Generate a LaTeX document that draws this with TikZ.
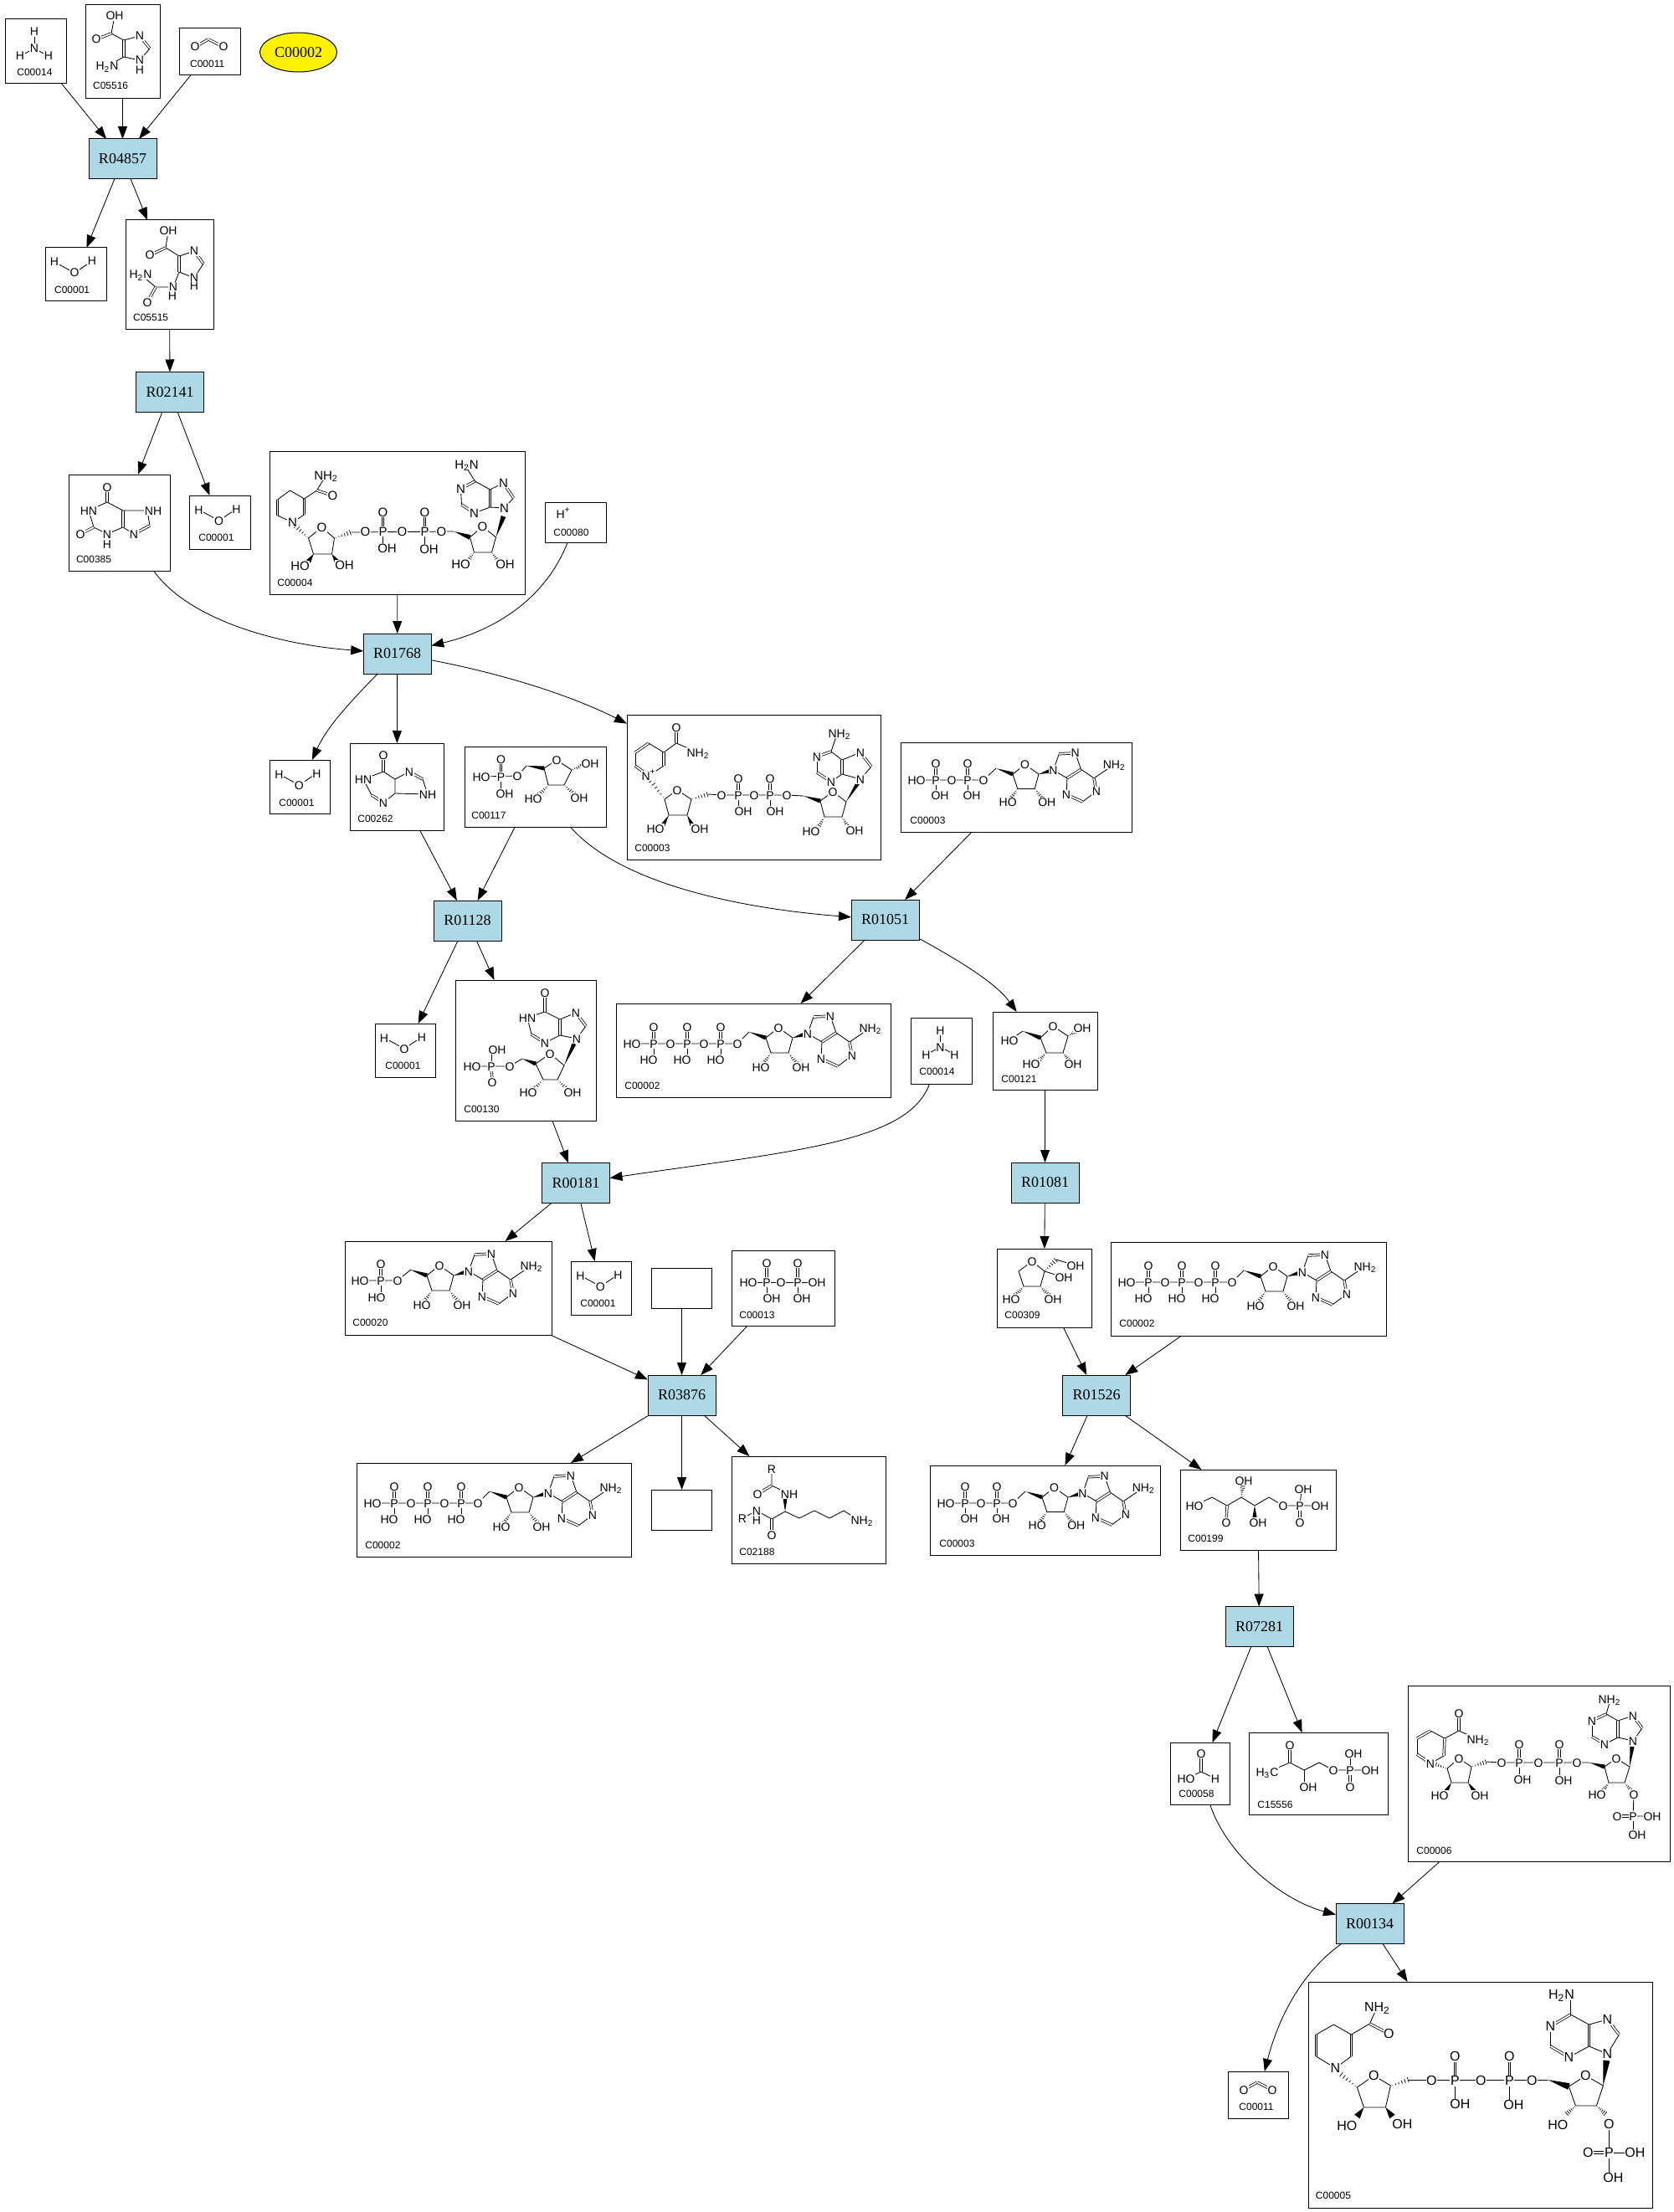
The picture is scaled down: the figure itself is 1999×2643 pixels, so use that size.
\documentclass[tikz,border=0pt]{standalone}
\usepackage{fontspec}
\setmainfont{Liberation Sans}
\newfontfamily\rxnfont{Liberation Serif}
\usetikzlibrary{arrows.meta,calc,fit,shapes.geometric}
\definecolor{rxnblue}{RGB}{173,216,230}
\newcounter{atomno}
\def\AS{7}\def\AH{5pt}\def\WW{1.3pt}
\newcommand\setAF[3]{\def\AS{#1}\def\AH{#2}\def\WW{#3}}
\tikzset{
  cbox/.style={draw,rectangle,inner sep=0pt,outer sep=0pt,line width=.5pt},
  clabel/.style={anchor=west,inner sep=0pt,font=\fontsize{6}{6}\selectfont},
  rxn/.style={draw,rectangle,fill=rxnblue,inner sep=0pt,outer sep=0pt,line width=.5pt,minimum width=40.5pt,minimum height=24pt,font=\rxnfont\fontsize{9}{9}\selectfont},
  cpd/.style={draw,ellipse,fill=yellow,inner sep=0pt,outer sep=0pt,line width=.5pt,minimum width=46pt,minimum height=23.5pt,font=\rxnfont\fontsize{9}{9}\selectfont},
  edge/.style={draw,line width=.42pt,-{Triangle[length=7.5pt,width=5.5pt]}},
  bond/.style={line width=.42pt,line join=round},
  dbond/.style={line width=.38pt,double=white,draw=black,double distance=.9pt},
  atom/.style={inner sep=.35pt,fill=white,text height=\AH,text depth=0pt,font=\fontsize{\AS}{\AS}\selectfont}
}
\def\At(#1,#2)#3{\stepcounter{atomno}\node[atom] (atom\number\value{atomno}) at (#1,#2) {#3};}
\newcommand\Bd[1]{\draw[bond] #1;}
\newcommand\Db[2]{\draw[dbond] #1 -- #2;}
\newcommand\Wdg[2]{\fill #1 -- ($#2!\WW!90:#1$) -- ($#2!\WW!-90:#1$) -- cycle;}
\newcommand\Hsh[2]{\foreach \hs in {0.1,0.27,0.44,0.61,0.78,0.95}{\draw[line width=.35pt] ($($#1!\hs!#2$)!{\hs*1.6pt}!90:#2$) -- ($($#1!\hs!#2$)!{\hs*1.6pt}!-90:#2$);}}
\newcommand\SB[1]{\textsubscript{#1}}
% small molecules, coordinates local to the box corner
\newcommand\Wat[2]{\begin{scope}[shift={(#1,#2)}]\Bd{(11,17)--(35,30)--(56,16)}\At(11,17){H}\At(35,30){O}\At(56,16){H}\end{scope}}
\newcommand\Amm[2]{\begin{scope}[shift={(#1,#2)}]\Bd{(35,15)--(35,35)}\Bd{(18,44)--(35,35)--(52,44)}\At(35,15){H}\At(35,35){N}\At(18,44){H}\At(52,44){H}\end{scope}}
\newcommand\Cdx[2]{\begin{scope}[shift={(#1,#2)}]\Db{(19,22)}{(35,13)}\Db{(35,13)}{(53,22)}\At(19,22){O}\At(53,22){O}\end{scope}}
% adenosine fragment, local origin at C4'
\newcommand\Ado{%
  \Wdg{(-20,-7)}{(0,0)}
  \Bd{(0,0)--(15,-12)--(32,0)--(27,18)--(6,18)--cycle}
  \Wdg{(32,0)}{(46,-4)}\Hsh{(6,18)}{(-3,31)}\Hsh{(27,18)}{(37,31)}
  \Bd{(46,-4)--(50,-5)--(57,-25)}\Db{(57,-25)}{(77,-26)}\Bd{(77,-26)--(84,-6)}
  \Db{(84,-6)}{(67,5)}\Bd{(67,5)--(50,-5)}\Bd{(84,-6)--(100,5)--(125,-12)}
  \Db{(100,5)}{(103,21)}\Bd{(103,21)--(86,34)}\Db{(86,34)}{(66,25)}\Bd{(66,25)--(67,5)}
  \At(15,-12){O}\At(-6,35){HO}\At(42,35){OH}\At(50,-5){N}\At(77,-26){N}\At(125,-12){NH\SB{2}}\At(103,21){N}\At(66,25){N}
}
\newcommand\ATP[2]{\begin{scope}[shift={(#1,#2)}]
  \Bd{(19,48)--(145,48)--(159,34)}
  \foreach \px in {45,85,125}{\Db{(\px,28)}{(\px,48)}\Bd{(\px,48)--(\px,67)}}
  \begin{scope}[shift={(179,41)}]\Ado\end{scope}
  \At(19,48){HO}
  \foreach \px in {45,85,125}{\At(\px,48){P}\At(\px,28){O}\At(\px-6,67){HO}}
  \At(65,48){O}\At(105,48){O}\At(145,48){O}
\end{scope}}
\newcommand\ADP[2]{\begin{scope}[shift={(#1,#2)}]
  \Bd{(19,45)--(99,45)--(114,31)}
  \foreach \px in {42,80}{\Db{(\px,25)}{(\px,45)}\Bd{(\px,45)--(\px,63)}}
  \begin{scope}[shift={(134,38)},scale=.97]\Ado\end{scope}
  \At(19,45){HO}
  \foreach \px in {42,80}{\At(\px,45){P}\At(\px,25){O}\At(\px+5,63){OH}}
  \At(61,45){O}\At(99,45){O}
\end{scope}}
\begin{document}
\begin{tikzpicture}[x=0.5pt,y=-0.5pt]
\useasboundingbox[fill=white] (0,0) rectangle (1999,2643);
% ---------- compound boxes
\newcommand\Cmp[6]{\node[cbox,fit={#2#3}] (#1) {};\node[clabel] (#1lab) at (#4,#5) {#6};}
\Cmp{C14a}{(6,23)}{(79,100)}{20}{86}{C00014}
\Cmp{C5516}{(102,6)}{(191,118)}{110.7}{102}{C05516}
\Cmp{C11a}{(214,34)}{(287,90)}{226.7}{76}{C00011}
\Cmp{W1}{(54,296)}{(127,360)}{64.7}{346}{C00001}
\Cmp{C5515}{(150,263)}{(255,394)}{158.7}{379}{C05515}
\Cmp{C385}{(82,567)}{(203,682)}{90.6}{668}{C00385}
\Cmp{W2}{(226.5,592)}{(299,656)}{237}{642}{C00001}
\Cmp{C4}{(322.5,539)}{(627,710)}{331}{696}{C00004}
\Cmp{C80}{(651,600)}{(724,648)}{661}{636}{C00080}
\Cmp{W3}{(322.4,908)}{(394.5,972)}{333}{959}{C00001}
\Cmp{C262}{(418.4,888)}{(530,992)}{427}{978}{C00262}
\Cmp{C117}{(555,892)}{(724,988)}{563}{974}{C00117}
\Cmp{C3a}{(749,854)}{(1052.7,1027)}{758}{1013}{C00003}
\Cmp{C3b}{(1076,887)}{(1352,994)}{1087}{980}{C00003}
\Cmp{W4}{(448,1223)}{(520.6,1287)}{460}{1273}{C00001}
\Cmp{C130}{(544,1171)}{(712.6,1339)}{554}{1325}{C00130}
\Cmp{C2a}{(736,1199)}{(1064,1311)}{746}{1297}{C00002}
\Cmp{C14b}{(1088.5,1216)}{(1161.5,1295)}{1098}{1280}{C00014}
\Cmp{C121}{(1186,1209)}{(1311,1302)}{1196}{1289}{C00121}
\Cmp{C20}{(412,1483)}{(659,1595)}{421}{1580}{C00020}
\Cmp{W5}{(682.4,1507)}{(754.4,1571)}{693}{1557}{C00001}
\node[cbox,fit={(778.5,1515)(850.4,1563)}] (blankA) {};
\Cmp{C13}{(874.5,1494)}{(997,1584)}{883}{1571}{C00013}
\Cmp{C309}{(1191,1492)}{(1304,1586)}{1200}{1571}{C00309}
\Cmp{C2b}{(1327,1484)}{(1656,1596)}{1337}{1581}{C00002}
\Cmp{C2c}{(426,1748)}{(754.6,1860)}{436}{1846}{C00002}
\node[cbox,fit={(778.6,1780)(850.6,1828)}] (blankB) {};
\Cmp{C2188}{(874.6,1740)}{(1058,1868)}{883}{1854}{C02188}
\Cmp{C3c}{(1111,1751)}{(1386,1858)}{1122}{1844}{C00003}
\Cmp{C199}{(1410,1756)}{(1596,1852)}{1419}{1838}{C00199}
\Cmp{C58}{(1398,2082)}{(1469,2156)}{1408}{2143}{C00058}
\Cmp{C15556}{(1492,2070)}{(1658.6,2168)}{1502}{2156}{C15556}
\Cmp{C6}{(1682,2014)}{(1995,2224)}{1692}{2211}{C00006}
\Cmp{C11b}{(1467.5,2475)}{(1539.6,2531)}{1480}{2517}{C00011}
\Cmp{C5}{(1563.4,2368)}{(1974.5,2638)}{1571.5}{2623}{C00005}
% ---------- reactions
\node[cpd] (C2top) at (356.5,62.5) {C00002};
\node[rxn] (R04857) at (146.5,190) {R04857};
\node[rxn] (R02141) at (203,468.5) {R02141};
\node[rxn] (R01768) at (474.7,781) {R01768};
\node[rxn] (R01128) at (558.5,1100) {R01128};
\node[rxn] (R01051) at (1057.5,1099) {R01051};
\node[rxn] (R00181) at (688,1413.5) {R00181};
\node[rxn] (R01081) at (1248.5,1413) {R01081};
\node[rxn] (R03876) at (814.5,1667) {R03876};
\node[rxn] (R01526) at (1310,1667) {R01526};
\node[rxn] (R07281) at (1504.5,1943.5) {R07281};
\node[rxn] (R00134) at (1636.5,2298.5) {R00134};
% ---------- connectors
\draw[edge] (C14a) -- (R04857);
\draw[edge] (C5516) -- (R04857);
\draw[edge] (C11a) -- (R04857);
\draw[edge] (R04857) -- (W1);
\draw[edge] (R04857) -- (C5515);
\draw[edge] (C5515) -- (R02141);
\draw[edge] (R02141) -- (C385);
\draw[edge] (R02141) -- (W2);
\draw[edge] (C385) .. controls (225,740) and (330,770) .. (R01768);
\draw[edge] (C4) -- (R01768);
\draw[edge] (C80) .. controls (650,720) and (585,755) .. (R01768);
\draw[edge] (R01768) .. controls (415,842) and (390,870) .. (W3);
\draw[edge] (R01768) -- (C262);
\draw[edge] (R01768) .. controls (600,805) and (680,830) .. (C3a);
\draw[edge] (C262) -- (R01128);
\draw[edge] (C117) -- (R01128);
\draw[edge] (C117) .. controls (740,1055) and (880,1085) .. (R01051);
\draw[edge] (C3b) -- (R01051);
\draw[edge] (R01128) -- (W4);
\draw[edge] (R01128) -- (C130);
\draw[edge] (R01051) -- (C2a);
\draw[edge] (R01051) .. controls (1150,1150) and (1190,1175) .. (C121);
\draw[edge] (C14b) .. controls (1085,1365) and (950,1375) .. (R00181);
\draw[edge] (C130) -- (R00181);
\draw[edge] (C121) -- (R01081);
\draw[edge] (R00181) -- (C20);
\draw[edge] (R00181) -- (W5);
\draw[edge] (blankA) -- (R03876);
\draw[edge] (C13) -- (R03876);
\draw[edge] (C20) -- (R03876);
\draw[edge] (R03876) -- (C2c);
\draw[edge] (R03876) -- (blankB);
\draw[edge] (R03876) -- (C2188);
\draw[edge] (R01081) -- (C309);
\draw[edge] (C309) -- (R01526);
\draw[edge] (C2b) -- (R01526);
\draw[edge] (R01526) -- (C3c);
\draw[edge] (R01526) -- (C199);
\draw[edge] (C199) -- (R07281);
\draw[edge] (R07281) -- (C58);
\draw[edge] (R07281) -- (C15556);
\draw[edge] (C58) .. controls (1465,2215) and (1530,2270) .. (R00134);
\draw[edge] (C6) -- (R00134);
\draw[edge] (R00134) .. controls (1550,2360) and (1525,2420) .. (C11b);
\draw[edge] (R00134) -- (C5);
% ---------- small structures
\Wat{54}{296}\Wat{226.5}{592}\Wat{322.4}{908}\Wat{448}{1223}\Wat{682.4}{1507}
\Amm{6}{23}\Amm{1088.5}{1216}
\Cdx{214}{34}\Cdx{1467}{2475}
% C05516
\Bd{(137,19)--(133,40)--(148,48)}\Db{(133,40)}{(115,47)}\Db{(148,48)}{(148,68)}
\Bd{(148,48)--(167,43)}\Db{(167,43)}{(179,58)}\Bd{(179,58)--(167,72)--(148,68)--(128,79)}
\At(137,19){OH}\At(115,47){O}\At(167,43){N}\At(167,72){N}\At(167,84){H}\At(128,79){H\SB{2}N}
% C05515
\Bd{(201,276)--(198,296)--(214,306)}\Db{(198,296)}{(179,305)}\Db{(214,306)}{(214,325)}
\Bd{(214,306)--(232,300)}\Db{(232,300)}{(243,315)}\Bd{(243,315)--(232,332)--(214,325)--(207,343)--(186,343)--(168,328)}\Db{(186,343)}{(176,361)}
\At(201,276){OH}\At(179,305){O}\At(232,300){N}\At(232,332){N}\At(232,342){H}\At(207,343){N}\At(206,353){H}\At(168,328){H\SB{2}N}\At(176,361){O}
% C00385
\Db{(128,582)}{(128,600)}\Bd{(128,600)--(106,610)--(112,630)--(128,638)--(147,630)}\Db{(112,630)}{(96,638)}
\Db{(147,630)}{(147,610)}\Bd{(147,610)--(128,600)}\Bd{(147,610)--(176,610)--(179,628)}\Db{(179,628)}{(160,638)}\Bd{(160,638)--(147,630)}
\At(128,582){O}\At(106,610){HN}\At(96,638){O}\At(128,638){N}\At(128,650){H}\At(183,610){NH}\At(160,638){N}
% C00080
\At(673,614){H\textsuperscript{+}}
% C00262
\Db{(458,902)}{(458,922)}\Bd{(458,922)--(434,931)--(444,950)}\Db{(444,950)}{(458,959)}\Bd{(458,959)--(472,948)--(472,931)--(458,922)}
\Bd{(472,931)--(489,922)}\Db{(489,922)}{(505,931)}\Bd{(505,931)--(511,949)--(472,948)}
\At(458,902){O}\At(434,931){HN}\At(458,959){N}\At(489,922){N}\At(511,949){NH}
% C00117
\Bd{(575,928)--(618,927)--(629,915)}\Db{(598.5,907)}{(598.5,928)}\Bd{(598.5,928)--(598.5,948)}
\Wdg{(629,915)}{(650,918)}\Bd{(650,918)--(665,908)--(683,920)--(674,938)--(655,938)--cycle}
\Hsh{(683,920)}{(697,914)}\Hsh{(655,938)}{(644,950)}\Hsh{(674,938)}{(686,949)}
\At(575,928){HO}\At(598.5,928){P}\At(598.5,907){O}\At(603,948){OH}\At(618,927){O}\At(665,908){O}\At(705,912){OH}\At(637,954){HO}\At(692,953){OH}
% C00130
\begin{scope}[shift={(544,1171)}]
\Bd{(20,103)--(65,103)--(80,94)}\Bd{(43,103)--(43,83)}\Db{(43,103)}{(44,122)}
\Wdg{(80,94)}{(96,100)}\Bd{(96,100)--(113,88)--(130,102)--(122,119)--(105,119)--cycle}
\Hsh{(105,119)}{(93,131)}\Hsh{(122,119)}{(134,131)}\Wdg{(130,102)}{(142,76)}
\Bd{(145,70)--(156,55)}\Db{(156,55)}{(144,39)}\Bd{(144,39)--(125,47)}\Db{(125,47)}{(125,66)}\Bd{(125,66)--(145,70)}
\Bd{(125,66)--(107,75)}\Db{(107,75)}{(91,65)}\Bd{(91,65)--(86,45)--(107,38)--(125,47)}\Db{(107,38)}{(107,15)}
\At(20,103){HO}\At(43,103){P}\At(50,83){OH}\At(44,122){O}\At(65,103){O}\At(113,88){O}\At(87,134){HO}\At(140,134){OH}
\At(145,70){N}\At(144,39){N}\At(107,75){N}\At(86,45){HN}\At(107,15){O}
\end{scope}
% C00004 (NADH)
\begin{scope}[shift={(322.5,539)}]\setAF{7.5}{5.4pt}{1.5pt}
\Bd{(27,85)--(41,76)}\Db{(41,76)}{(41,57)}\Bd{(41,57)--(24,47)--(9,58)}\Db{(9,58)}{(9,77)}\Bd{(9,77)--(27,85)}
\Bd{(41,57)--(56,47)--(67,29)}\Db{(56,47)}{(75,53)}\Hsh{(46,104)}{(30,89)}
\Bd{(46,104)--(62,91)--(77,104)--(74,123)--(52,123)--cycle}\Wdg{(52,123)}{(46,132)}\Wdg{(74,123)}{(80,132)}
\Hsh{(77,104)}{(97,97)}\Bd{(97,97)--(220,96)}
\Db{(135,73)}{(135,96)}\Bd{(135,96)--(135,116)}\Db{(185,73)}{(185,96)}\Bd{(185,96)--(185,117)}
\Wdg{(220,96)}{(239,103)}\Bd{(239,103)--(254,90)--(270,103)--(265,121)--(244,121)--cycle}
\Hsh{(244,121)}{(235,133)}\Hsh{(265,121)}{(274,133)}\Wdg{(270,103)}{(279,78)}
\Bd{(280,68)--(291,56)}\Db{(291,56)}{(279,38)}\Bd{(279,38)--(263,46)}\Db{(263,46)}{(263,67)}\Bd{(263,67)--(280,68)}
\Bd{(263,67)--(244,74)}\Db{(244,74)}{(229,64)}\Bd{(229,64)--(228,45)}\Db{(228,45)}{(245,36)}\Bd{(245,36)--(263,46)}\Bd{(245,36)--(235,20)}
\At(67,29){NH\SB{2}}\At(75,53){O}\At(27,85){N}\At(62,91){O}\At(36,137){HO}\At(89,136){OH}\At(114,96){O}\At(135,96){P}\At(135,73){O}\At(140,116){OH}\At(158,96){O}\At(185,96){P}\At(185,73){O}\At(190,117){OH}\At(205,96){O}
\At(254,90){O}\At(228,135){HO}\At(281,135){OH}\At(280,68){N}\At(279,38){N}\At(244,74){N}\At(228,45){N}\At(235,16){H\SB{2}N}
\end{scope}
% C00003 (NAD+)
\begin{scope}[shift={(749,854)}]
\Db{(59,15)}{(59,34)}\Bd{(59,34)--(85,45)}\Bd{(59,34)--(44,45)}\Db{(44,45)}{(44,61)}\Bd{(44,61)--(26,73)}\Db{(26,73)}{(10,61)}\Bd{(10,61)--(10,45)}\Db{(10,45)}{(26,34)}\Bd{(26,34)--(44,45)}
\Hsh{(45,101)}{(28,78)}\Bd{(45,101)--(60,90)--(77,101)--(72,120)--(50,120)--cycle}\Wdg{(50,120)}{(43,132)}\Wdg{(72,120)}{(78,132)}
\Hsh{(77,101)}{(97,95)}\Bd{(97,95)--(113,96)--(191,96)--(211,97)}
\Db{(133,76)}{(133,96)}\Bd{(133,96)--(133,115)}\Db{(171,76)}{(171,96)}\Bd{(171,96)--(171,115)}
\Wdg{(211,97)}{(231,103)}\Bd{(231,103)--(246,92)--(262,104)--(257,122)--(236,122)--cycle}
\Hsh{(236,122)}{(228,135)}\Hsh{(257,122)}{(265,135)}\Wdg{(262,104)}{(277,80)}
\Bd{(279,77)--(292,62)}\Db{(292,62)}{(279,45)}\Bd{(279,45)--(257,54)}\Db{(257,54)}{(257,71)}\Bd{(257,71)--(279,77)}
\Bd{(257,71)--(244,80)}\Db{(244,80)}{(227,69)}\Bd{(227,69)--(227,50)}\Db{(227,50)}{(244,44)}\Bd{(244,44)--(257,54)}\Bd{(244,44)--(250,26)}
\At(59,15){O}\At(85,45){NH\SB{2}}\At(26,73){N\textsuperscript{+}}\At(60,90){O}\At(34,136){HO}\At(87,136){OH}\At(113,96){O}\At(133,96){P}\At(133,76){O}\At(139,115){OH}\At(152,96){O}\At(171,96){P}\At(171,76){O}\At(177,115){OH}\At(191,96){O}
\At(246,92){O}\At(220,139){HO}\At(272,138){OH}\At(279,77){N}\At(279,45){N}\At(244,80){N}\At(227,50){N}\At(254,22){NH\SB{2}}
\end{scope}
% ADP, ATP, AMP
\ADP{1076}{887}\ADP{1111}{1751}
\ATP{736}{1199}\ATP{1327}{1484}\ATP{426}{1748}
\begin{scope}[shift={(412,1483)}]
\Bd{(18,47)--(63,47)--(79,34)}\Db{(43,27)}{(43,47)}\Bd{(43,47)--(43,67)}
\begin{scope}[shift={(98,41)}]\Ado\end{scope}
\At(18,47){HO}\At(43,47){P}\At(43,27){O}\At(38,67){HO}\At(63,47){O}
\end{scope}
% C00121
\Bd{(1206,1243)--(1222,1232)}\Wdg{(1222,1232)}{(1243,1240)}\Bd{(1243,1240)--(1258,1226)--(1276,1238)--(1270,1258)--(1250,1258)--cycle}
\Hsh{(1276,1238)}{(1287,1231)}\Hsh{(1250,1258)}{(1240,1268)}\Hsh{(1270,1258)}{(1278,1268)}
\At(1206,1243){HO}\At(1258,1226){O}\At(1293,1228){OH}\At(1232,1271){HO}\At(1282,1271){OH}
% C00309
\Bd{(1233,1507)--(1217,1519)--(1223,1537)--(1243,1537)--(1248,1519)--cycle}
\Hsh{(1248,1519)}{(1262,1505)}\Bd{(1262,1505)--(1285,1512)}\Bd{(1248,1519)--(1271,1526)}
\Hsh{(1223,1537)}{(1213,1548)}\Hsh{(1243,1537)}{(1253,1548)}
\At(1233,1507){O}\At(1285,1512){OH}\At(1271,1526){OH}\At(1208,1552){HO}\At(1258,1552){OH}
% C00013
\Bd{(894,1532)--(976,1532)}\Db{(916,1509)}{(916,1532)}\Bd{(916,1532)--(916,1551)}\Db{(953,1509)}{(953,1532)}\Bd{(953,1532)--(953,1551)}
\At(894,1532){HO}\At(916,1532){P}\At(916,1509){O}\At(922,1551){OH}\At(933,1532){O}\At(953,1532){P}\At(953,1509){O}\At(958,1551){OH}\At(976,1532){OH}
% C02188
\Bd{(922,1755)--(922,1775)--(943,1785)}\Db{(922,1775)}{(905,1785)}\Wdg{(938,1806)}{(938,1790)}
\Bd{(938,1806)--(922,1815)--(904,1805)}\Db{(922,1815)}{(922,1834)}\Bd{(904,1805)--(887,1814)}
\Bd{(938,1806)--(955,1814)--(973,1805)--(991,1814)--(1008,1805)--(1022,1814)}
\At(922,1755){R}\At(905,1785){O}\At(943,1785){NH}\At(922,1834){O}\At(904,1805){N}\At(904,1816){H}\At(887,1814){R}\At(1030,1816){NH\SB{2}}
% C00199
\Bd{(1427,1799)--(1448,1789)--(1466,1799)--(1483,1789)--(1499,1799)--(1516,1789)--(1533,1799)--(1577,1799)}
\Db{(1466,1799)}{(1465,1819)}\Hsh{(1483,1789)}{(1485,1775)}\Wdg{(1499,1799)}{(1499,1813)}
\Bd{(1553,1799)--(1555,1780)}\Db{(1553,1799)}{(1553,1819)}
\At(1427,1799){HO}\At(1465,1819){O}\At(1486,1769){OH}\At(1503,1819){OH}\At(1533,1799){O}\At(1553,1799){P}\At(1557,1779){OH}\At(1577,1799){OH}\At(1553,1819){O}
% C00058
\Db{(1435,2095)}{(1435,2117)}\Bd{(1417,2125)--(1435,2117)--(1452,2125)}
\At(1435,2095){O}\At(1417,2125){HO}\At(1452,2125){H}
% C15556
\Bd{(1520,2115)--(1541,2106)--(1558,2115)--(1576,2106)--(1593,2115)--(1637,2115)}\Db{(1541,2085)}{(1541,2106)}\Bd{(1558,2115)--(1558,2135)}
\Bd{(1613,2115)--(1613,2095)}\Db{(1613,2115)}{(1613,2135)}
\At(1514,2117){H\SB{3}C}\At(1541,2085){O}\At(1563,2135){OH}\At(1593,2115){O}\At(1613,2115){P}\At(1617,2095){OH}\At(1637,2115){OH}\At(1613,2135){O}
% C00006 (NADP+)
\begin{scope}[shift={(1682,2014)}]
\Db{(61,33)}{(61,54)}\Bd{(61,54)--(84,64)}\Bd{(61,54)--(44,63)}\Db{(44,63)}{(43,84)}\Bd{(43,84)--(27,93)}\Db{(27,93)}{(11,82)}\Bd{(11,82)--(11,63)}\Db{(11,63)}{(27,54)}\Bd{(27,54)--(44,63)}
\Hsh{(47,99)}{(30,93)}\Bd{(47,99)--(61,87)--(76,97)--(72,116)--(52,116)--cycle}\Wdg{(52,116)}{(46,126)}\Wdg{(72,116)}{(79,126)}
\Hsh{(76,97)}{(94,91)}\Bd{(94,91)--(112,92)--(217,92)}
\Db{(133,70)}{(133,92)}\Bd{(133,92)--(133,112)}\Db{(181,70)}{(181,92)}\Bd{(181,92)--(181,113)}
\Wdg{(217,92)}{(235,97)}\Bd{(235,97)--(249,87)--(265,97)--(259,116)--(240,116)--cycle}
\Hsh{(240,116)}{(232,127)}\Hsh{(259,116)}{(268,127)}\Wdg{(265,97)}{(268,73)}
\Bd{(269,66)--(280,51)}\Db{(280,51)}{(269,36)}\Bd{(269,36)--(251,42)}\Db{(251,42)}{(251,62)}\Bd{(251,62)--(269,66)}
\Bd{(251,62)--(235,70)}\Db{(235,70)}{(220,61)}\Bd{(220,61)--(220,42)}\Db{(220,42)}{(237,34)}\Bd{(237,34)--(251,42)}\Bd{(237,34)--(241,20)}
\Bd{(270,130)--(269,156)--(292,156)}\Bd{(269,156)--(269,178)}\Db{(250,156)}{(269,156)}
\At(61,33){O}\At(84,64){NH\SB{2}}\At(27,93){N}\At(61,87){O}\At(38,131){HO}\At(86,131){OH}\At(112,92){O}\At(133,92){P}\At(133,70){O}\At(137,112){OH}\At(156,92){O}\At(181,92){P}\At(181,70){O}\At(186,113){OH}\At(202,92){O}
\At(249,87){O}\At(226,130){HO}\At(270,130){O}\At(269,66){N}\At(269,36){N}\At(235,70){N}\At(220,42){N}\At(241,16){NH\SB{2}}
\At(269,156){P}\At(250,156){O}\At(292,156){OH}\At(274,178){OH}
\end{scope}
% C00005 (NADPH)
\begin{scope}[shift={(1563.4,2368)}]\setAF{8}{5.8pt}{2pt}
\Bd{(32,103)--(51,89)}\Db{(51,89)}{(51,63)}\Bd{(51,63)--(30,51)--(9,63)}\Db{(9,63)}{(9,89)}\Bd{(9,89)--(32,103)}
\Bd{(51,63)--(73,50)--(82,30)}\Db{(73,50)}{(96,62)}\Hsh{(58,126)}{(38,110)}
\Bd{(58,126)--(78,112)--(98,124)--(92,150)--(66,150)--cycle}\Wdg{(66,150)}{(58,161)}\Wdg{(92,150)}{(100,161)}
\Hsh{(98,124)}{(120,117)}\Bd{(120,117)--(286,117)}
\Db{(175,89)}{(175,118)}\Bd{(175,118)--(175,146)}\Db{(240,89)}{(240,118)}\Bd{(240,118)--(240,147)}
\Wdg{(286,117)}{(311,125)}\Bd{(311,125)--(331,112)--(352,124)--(344,148)--(319,148)--cycle}
\Hsh{(319,148)}{(308,158)}\Hsh{(344,148)}{(355,158)}\Wdg{(352,124)}{(356,94)}
\Bd{(357,86)--(371,63)}\Db{(371,63)}{(357,45)}\Bd{(357,45)--(335,51)}\Db{(335,51)}{(335,77)}\Bd{(335,77)--(357,86)}
\Bd{(335,77)--(311,90)}\Db{(311,90)}{(289,77)}\Bd{(289,77)--(289,53)}\Db{(289,53)}{(313,39)}\Bd{(313,39)--(335,51)}\Bd{(313,39)--(313,20)}
\Bd{(359,170)--(359,234)}\Db{(334,204)}{(359,204)}\Bd{(359,204)--(390,204)}
\At(82,30){NH\SB{2}}\At(96,62){O}\At(32,103){N}\At(78,112){O}\At(46,172){HO}\At(112,170){OH}\At(147,118){O}\At(175,118){P}\At(175,89){O}\At(181,146){OH}\At(206,118){O}\At(240,118){P}\At(240,89){O}\At(245,147){OH}\At(267,118){O}
\At(331,112){O}\At(298,171){HO}\At(359,170){O}\At(357,86){N}\At(357,45){N}\At(311,90){N}\At(289,53){N}\At(302,15){H\SB{2}N}
\At(359,204){P}\At(334,204){O}\At(390,204){OH}\At(364,234){OH}
\end{scope}
\end{tikzpicture}
\end{document}
